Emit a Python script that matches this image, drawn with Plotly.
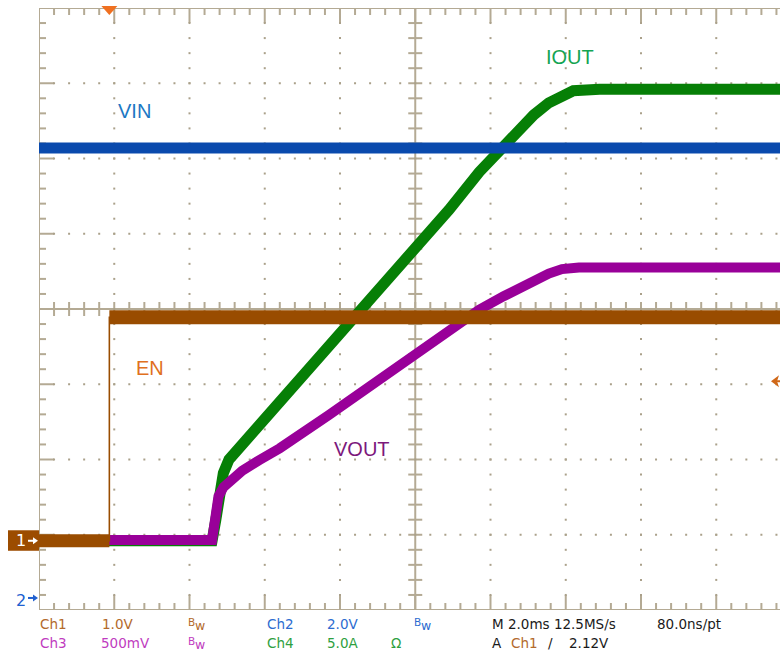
import plotly.graph_objects as go

# ---- scope settings ----
TIME_PER_DIV = 2.0                                   # ms / div
CH_SCALE = {"Ch1": 1.0, "Ch2": 2.0, "Ch3": 0.5, "Ch4": 5.0}      # V/div, A/div
CH_OFFSET = {"Ch1": -3.08, "Ch2": -3.84, "Ch3": -3.07, "Ch4": -3.08}  # div
TRIG_TIME = 1.87      # ms
TRIG_LEVEL = 2.12     # V on Ch1

# ---- waveforms (time in ms) ----
en_t = [0.0, 1.87, 1.87, 19.7]
en_v = [0.0, 0.0, 2.97, 2.97]

vin_t = [0.0, 19.7]
vin_v = [11.96, 11.96]

vout_t = [0.0, 4.6, 4.7, 4.77, 4.9, 5.12, 5.4, 5.85, 6.4, 7.7, 9.05, 10.4,
          11.7, 12.35, 13.05, 13.55, 13.9, 14.35, 19.7]
vout_v = [0.0, 0.0, 0.17, 0.29, 0.35, 0.40, 0.46, 0.53, 0.61, 0.83, 1.06, 1.29,
          1.53, 1.62, 1.71, 1.77, 1.80, 1.81, 1.81]

iout_t = [0.0, 4.6, 4.7, 4.8, 4.9, 5.05, 5.4, 5.85, 6.9, 8.25, 9.05, 10.0,
          10.9, 11.7, 12.25, 12.75, 13.15, 13.55, 14.2, 14.9, 19.7]
iout_a = [0.0, 0.0, 1.4, 3.4, 4.5, 5.4, 6.4, 7.7, 10.5, 14.5, 16.6, 19.3,
          22.0, 24.5, 26.0, 27.3, 28.3, 29.1, 29.9, 30.0, 30.0]

# ---- colours ----
C_EN, C_VIN, C_VOUT, C_IOUT = "#994c00", "#0a4aad", "#990099", "#067f06"
GRID = "#b4aa94"
DOT = "#aaa08a"
ORANGE = "#f07020"

# ---- geometry ----
W, H = 780, 654
ML, MT, MB = 39, 8, 44
PW, PH = W - ML, H - MT - MB
DIV = PH / 8.0
XMAX = PW / DIV


def tx(t):
    return [v / TIME_PER_DIV for v in t]


def ty(vals, ch):
    return [v / CH_SCALE[ch] + CH_OFFSET[ch] for v in vals]


def xp(px):
    return (px - ML) / PW


def yp(py):
    return (MT + PH - py) / PH


def div_to_py(d):
    return MT + (4 - d) * DIV


fig = go.Figure()

# ---- graticule ----
def add_seg(xs, ys, x0, y0, x1, y1):
    xs += [x0, x1, None]
    ys += [y0, y1, None]

lx, ly = [], []
add_seg(lx, ly, 0, -4, 0, 4)
add_seg(lx, ly, 0, 4, XMAX + 1, 4)
add_seg(lx, ly, 0, -4, XMAX + 1, -4)
add_seg(lx, ly, 5, -4, 5, 4)
add_seg(lx, ly, 0, 0, XMAX + 1, 0)

minor = 7 / DIV
major = 15 / DIV
cen = 7 / DIV
for j in range(1, 51):
    x = j * 0.2
    L = major if j % 5 == 0 else minor
    add_seg(lx, ly, x, 4, x, 4 - L)
    add_seg(lx, ly, x, -4, x, -4 + L)
    add_seg(lx, ly, x, -cen, x, cen)
for j in range(1, 40):
    y = -4 + j * 0.2
    L = major if j % 5 == 0 else minor
    add_seg(lx, ly, 0, y, L, y)
    add_seg(lx, ly, 5 - cen, y, 5 + cen, y)

fig.add_trace(go.Scatter(x=lx, y=ly, mode="lines",
                         line=dict(color=GRID, width=2), hoverinfo="skip"))

dx, dy = [], []
for k in range(1, 10):
    if k == 5:
        continue
    for j in range(1, 40):
        dx.append(k)
        dy.append(-4 + j * 0.2)
for k in range(-3, 4):
    if k == 0:
        continue
    for j in range(1, 50):
        dx.append(j * 0.2)
        dy.append(k)
fig.add_trace(go.Scatter(x=dx, y=dy, mode="markers",
                         marker=dict(color=DOT, size=2, symbol="square",
                                     line=dict(width=0)),
                         hoverinfo="skip"))

# ---- waveforms ----
fig.add_trace(go.Scatter(x=tx(iout_t), y=ty(iout_a, "Ch4"), mode="lines",
                         line=dict(color=C_IOUT, width=11), hoverinfo="skip"))
fig.add_trace(go.Scatter(x=tx(vout_t), y=ty(vout_v, "Ch3"), mode="lines",
                         line=dict(color=C_VOUT, width=10), hoverinfo="skip"))
fig.add_trace(go.Scatter(x=tx(vin_t), y=ty(vin_v, "Ch2"), mode="lines",
                         line=dict(color=C_VIN, width=11), hoverinfo="skip"))

# EN: thin edge, thick settled levels
ex, ey = tx(en_t), ty(en_v, "Ch1")
fig.add_trace(go.Scatter(x=ex, y=ey, mode="lines",
                         line=dict(color=C_EN, width=1.6), hoverinfo="skip"))
for i in range(len(en_t) - 1):
    if en_v[i] == en_v[i + 1] and en_t[i + 1] > en_t[i]:
        fig.add_trace(go.Scatter(x=ex[i:i + 2], y=ey[i:i + 2], mode="lines",
                                 line=dict(color=C_EN, width=13 if en_v[i] == 0 else 14),
                                 hoverinfo="skip"))

shapes = []
P = dict(xref="paper", yref="paper")
# trigger position marker (top)
trig_px = ML + TRIG_TIME / TIME_PER_DIV * DIV
shapes.append(dict(type="path", **P,
                   path=f"M {xp(trig_px-8)} {yp(6)} L {xp(trig_px+8)} {yp(6)} L {xp(trig_px)} {yp(15)} Z",
                   fillcolor=ORANGE, line=dict(width=0)))
# trigger level marker (right)
lvl_py = div_to_py(TRIG_LEVEL / CH_SCALE["Ch1"] + CH_OFFSET["Ch1"])
shapes.append(dict(type="path", **P,
                   path=(f"M {xp(771)} {yp(lvl_py)} L {xp(779)} {yp(lvl_py-6)} "
                         f"L {xp(777)} {yp(lvl_py)} L {xp(779)} {yp(lvl_py+6)} Z"),
                   fillcolor="#d06818", line=dict(width=0)))
shapes.append(dict(type="line", **P,
                   x0=xp(775), x1=xp(781), y0=yp(lvl_py), y1=yp(lvl_py),
                   line=dict(color="#d06818", width=2)))
# Ch1 ground marker box
g1 = div_to_py(CH_OFFSET["Ch1"])
shapes.append(dict(type="rect", **P,
                   x0=xp(8), x1=xp(39), y0=yp(g1 - 10.5), y1=yp(g1 + 10),
                   fillcolor="#9c4c00", line=dict(width=0)))

ann = []
ann.append(dict(**P, x=xp(20.5), y=yp(g1), text="1", showarrow=False,
                font=dict(family="DejaVu Sans", size=16, color="white"),
                xanchor="center", yanchor="middle"))
shapes.append(dict(type="line", **P,
                   x0=xp(28), x1=xp(34), y0=yp(g1), y1=yp(g1),
                   line=dict(color="white", width=2)))
shapes.append(dict(type="path", **P,
                   path=f"M {xp(33)} {yp(g1-3.5)} L {xp(38)} {yp(g1)} L {xp(33)} {yp(g1+3.5)} Z",
                   fillcolor="white", line=dict(width=0)))
# Ch2 ground marker
g2 = div_to_py(CH_OFFSET["Ch2"])
ann.append(dict(**P, x=xp(20.5), y=yp(g2 + 2.5), text="2", showarrow=False,
                font=dict(family="DejaVu Sans", size=16, color="#2060d0"),
                xanchor="center", yanchor="middle"))
shapes.append(dict(type="line", **P,
                   x0=xp(28), x1=xp(34), y0=yp(g2), y1=yp(g2),
                   line=dict(color="#2060d0", width=2)))
shapes.append(dict(type="path", **P,
                   path=f"M {xp(33)} {yp(g2-3.5)} L {xp(38)} {yp(g2)} L {xp(33)} {yp(g2+3.5)} Z",
                   fillcolor="#2060d0", line=dict(width=0)))

# channel names on the display
for txt, px, py, col in [("VIN", 134, 111, "#1c78c4"), ("EN", 150, 368, "#e07020"),
                         ("IOUT", 570, 57, "#14a452"), ("VOUT", 362, 449, "#7c187c")]:
    ann.append(dict(**P, x=xp(px), y=yp(py), text=txt, showarrow=False,
                    font=dict(family="Liberation Sans", size=20, color=col),
                    xanchor="center", yanchor="middle"))

# readout rows
T1, T3, T2, T4, TK = "#b36a2c", "#c03cc0", "#2c6cd0", "#2ea040", "#1a1a1a"
ROW1, ROW2 = 624, 642.5
readout = [
    (39, ROW1, "Ch1", T1), (101, ROW1, "1.0V", T1), (266, ROW1, "Ch2", T2),
    (326, ROW1, "2.0V", T2), (491, ROW1, "M 2.0ms 12.5MS/s", TK),
    (656, ROW1, "80.0ns/pt", TK),
    (39, ROW2, "Ch3", T3), (100, ROW2, "500mV", T3), (266, ROW2, "Ch4", T4),
    (326, ROW2, "5.0A", T4), (390, ROW2, "Ω", T4), (491, ROW2, "A", TK),
    (510, ROW2, "Ch1", T1), (547, ROW2, "/", TK), (568, ROW2, "2.12V", TK),
]
for px, py, txt, col in readout:
    ann.append(dict(**P, x=xp(px), y=yp(py), text=txt, showarrow=False,
                    font=dict(family="DejaVu Sans", size=13.5, color=col),
                    xanchor="left", yanchor="middle", borderpad=0))
# bandwidth-limit flags
for px, py, col in [(187, ROW1, T1), (413, ROW1, T2), (187, ROW2, T3)]:
    ann.append(dict(**P, x=xp(px), y=yp(py - 2), text="B", showarrow=False,
                    font=dict(family="DejaVu Sans", size=10.5, color=col),
                    xanchor="left", yanchor="middle", borderpad=0))
    ann.append(dict(**P, x=xp(px + 6.5), y=yp(py + 1.5), text="w", showarrow=False,
                    font=dict(family="DejaVu Sans", size=12.5, color=col),
                    xanchor="left", yanchor="middle", borderpad=0))

fig.update_layout(
    width=W, height=H, autosize=False,
    margin=dict(l=ML, r=0, t=MT, b=MB, pad=0),
    paper_bgcolor="white", plot_bgcolor="white",
    showlegend=False,
    xaxis=dict(range=[0, XMAX], visible=False, fixedrange=True),
    yaxis=dict(range=[-4, 4], visible=False, fixedrange=True),
    shapes=shapes, annotations=ann,
)

fig.write_html("out.html")
